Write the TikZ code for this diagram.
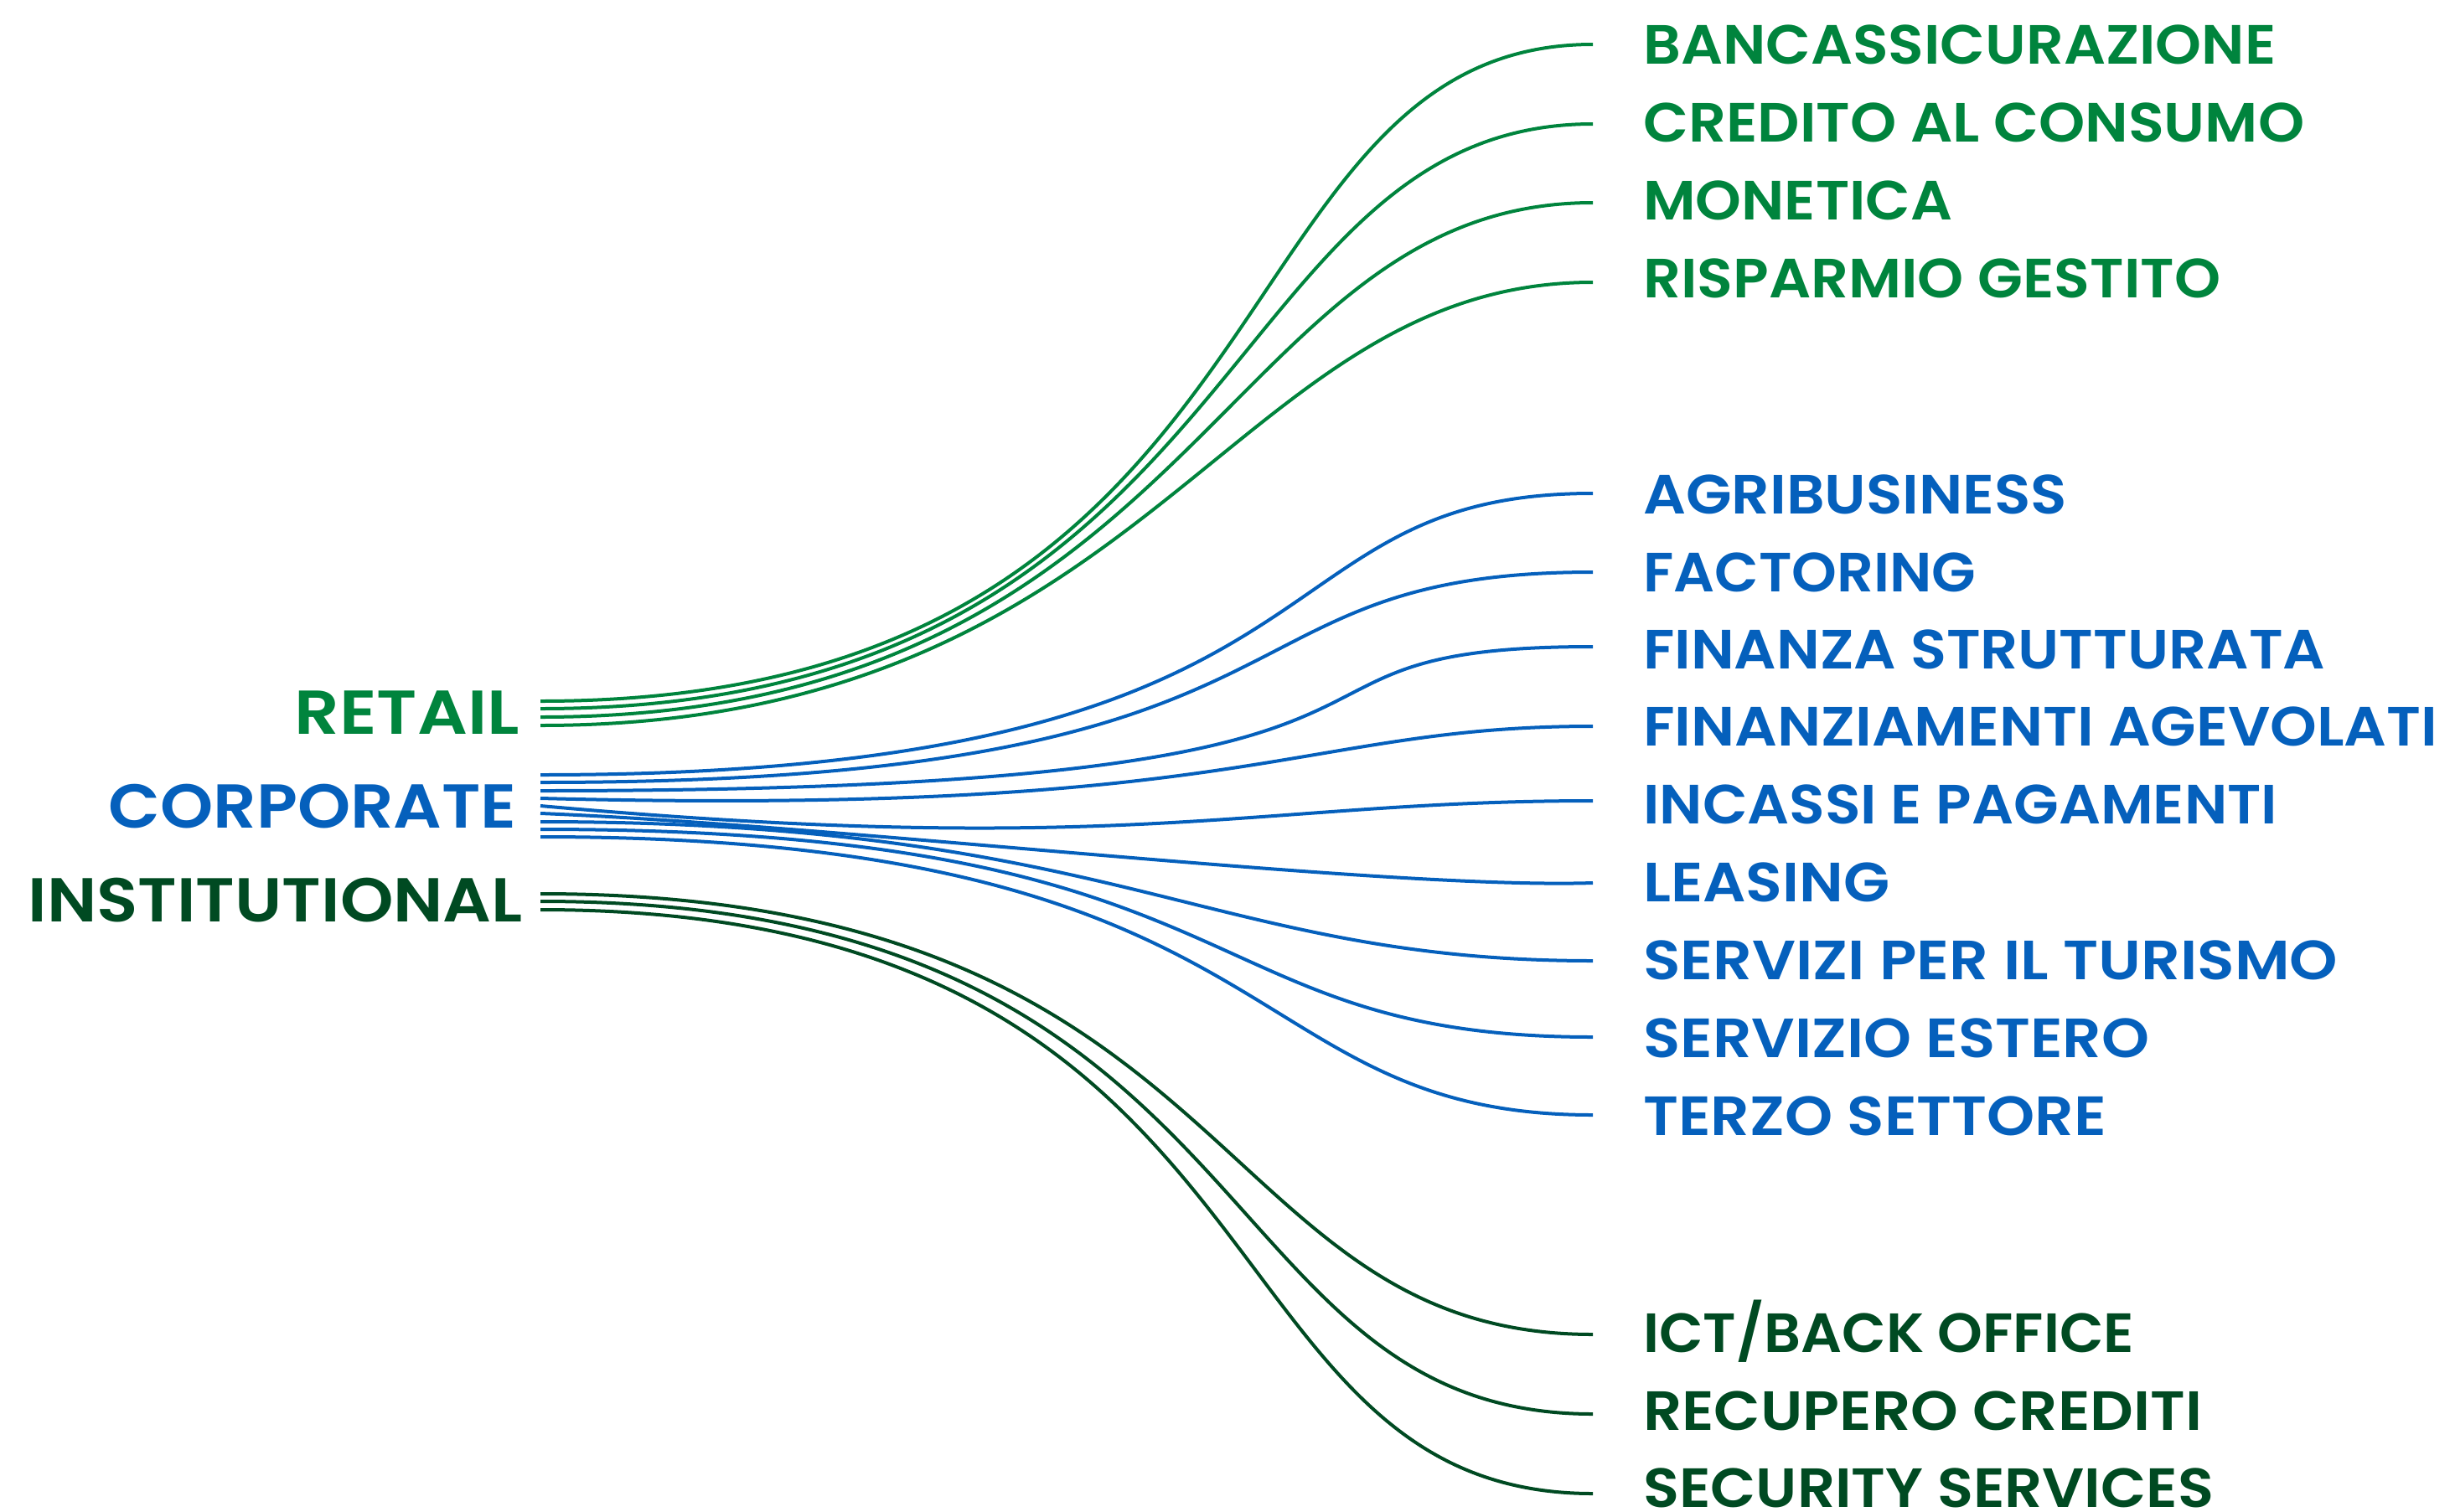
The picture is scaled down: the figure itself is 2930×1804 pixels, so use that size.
\documentclass[tikz,border=0pt]{standalone}
\usepackage{fontspec}
\usepackage{graphicx}
\IfFontExistsTF{Poppins SemiBold}
  {\newfontfamily\labfont{Poppins SemiBold}}
  {\newfontfamily\labfontbase{Poppins}\newcommand\labfont{\labfontbase\bfseries}}
\definecolor{cretail}{RGB}{0,132,61}
\definecolor{ccorp}{RGB}{5,96,188}
\definecolor{cinst}{RGB}{0,74,34}
% scale a text horizontally to a given width (in pt = px)
\newcommand\fitw[2]{\setbox0=\hbox{#2}\pgfmathsetmacro\fitsx{#1/\wd0}\scalebox{\fitsx}[1]{\copy0}}
\begin{document}
\begin{tikzpicture}[x=1pt,y=-1pt,
  rlab/.style={anchor=base west, inner sep=0pt, font=\fontsize{66}{70}\labfont},
  llab/.style={anchor=base east, inner sep=0pt, font=\fontsize{74}{80}\labfont},
  lnk/.style={line width=4pt},
  rline/.style={lnk, cretail},
  cline/.style={lnk, ccorp},
  iline/.style={lnk, cinst}]
\useasboundingbox (0,0) rectangle (2930,1804);
% left labels
\node[llab, text=cretail] (retail) at (620,876) {\fitw{268}{RETAIL}};
\node[llab, text=ccorp] (corporate) at (617,988) {\fitw{487}{CORPORATE}};
\node[llab, text=cinst] (institutional) at (624,1100) {\fitw{590}{INSTITUTIONAL}};
% right labels
\node[rlab, text=cretail] (t1) at (1961,76) {\fitw{755}{BANCASSICURAZIONE}};
\node[rlab, text=cretail] (t2) at (1961,169) {\fitw{789}{CREDITO AL CONSUMO}};
\node[rlab, text=cretail] (t3) at (1961,262) {\fitw{369}{MONETICA}};
\node[rlab, text=cretail] (t4) at (1961,355) {\fitw{689}{RISPARMIO GESTITO}};
\node[rlab, text=ccorp] (c1) at (1961,613) {\fitw{506}{AGRIBUSINESS}};
\node[rlab, text=ccorp] (c2) at (1961,706) {\fitw{397}{FACTORING}};
\node[rlab, text=ccorp] (c3) at (1961,798) {\fitw{814}{FINANZA STRUTTURATA}};
\node[rlab, text=ccorp] (c4) at (1961,890) {\fitw{948}{FINANZIAMENTI AGEVOLATI}};
\node[rlab, text=ccorp] (c5) at (1961,983) {\fitw{757}{INCASSI E PAGAMENTI}};
\node[rlab, text=ccorp] (c6) at (1961,1076) {\fitw{294}{LEASING}};
\node[rlab, text=ccorp] (c7) at (1961,1169) {\fitw{829}{SERVIZI PER IL TURISMO}};
\node[rlab, text=ccorp] (c8) at (1961,1262) {\fitw{604}{SERVIZIO ESTERO}};
\node[rlab, text=ccorp] (c9) at (1961,1355) {\fitw{553}{TERZO SETTORE}};
\node[rlab, text=cinst] (i1) at (1961,1614) {\fitw{586}{ICT/BACK OFFICE}};
\node[rlab, text=cinst] (i2) at (1961,1707) {\fitw{667}{RECUPERO CREDITI}};
\node[rlab, text=cinst] (i3) at (1961,1799) {\fitw{681}{SECURITY SERVICES}};
% connector end points
\coordinate (rs1) at (645,837); \coordinate (re1) at (1901,53);
\coordinate (rs2) at (645,846); \coordinate (re2) at (1901,148);
\coordinate (rs3) at (645,856); \coordinate (re3) at (1901,242);
\coordinate (rs4) at (645,866); \coordinate (re4) at (1901,337);
\coordinate (cs1) at (645,925); \coordinate (ce1) at (1901,589);
\coordinate (cs2) at (645,934); \coordinate (ce2) at (1901,683);
\coordinate (cs3) at (645,944); \coordinate (ce3) at (1901,772);
\coordinate (cs4) at (645,953); \coordinate (ce4) at (1901,867);
\coordinate (cs5) at (645,962); \coordinate (ce5) at (1901,956);
\coordinate (cs6) at (645,971); \coordinate (ce6) at (1901,1054);
\coordinate (cs7) at (645,981); \coordinate (ce7) at (1901,1147);
\coordinate (cs8) at (645,990); \coordinate (ce8) at (1901,1238);
\coordinate (cs9) at (645,999); \coordinate (ce9) at (1901,1331);
\coordinate (is1) at (645,1067); \coordinate (ie1) at (1901,1593);
\coordinate (is2) at (645,1076); \coordinate (ie2) at (1901,1688);
\coordinate (is3) at (645,1086); \coordinate (ie3) at (1901,1783);
% retail connectors
\draw[rline] (rs1) .. controls (1563,837) and (1437,53) .. (re1);
\draw[rline] (rs2) .. controls (1500,846) and (1445,148) .. (re2);
\draw[rline] (rs3) .. controls (1440,856) and (1455,242) .. (re3);
\draw[rline] (rs4) .. controls (1380,866) and (1465,337) .. (re4);
% corporate connectors
\draw[cline] (cs1) .. controls (1641,925) and (1478,589) .. (ce1);
\draw[cline] (cs2) .. controls (1619,934) and (1423,683) .. (ce2);
\draw[cline] (cs3) .. controls (1850,944) and (1433,772) .. (ce3);
\draw[cline] (cs4) .. controls (1500,975) and (1550,867) .. (ce4);
\draw[cline] (cs5) .. controls (1350,1025) and (1500,956) .. (ce5);
\draw[cline] (cs6) .. controls (1000,985) and (1650,1062) .. (ce6);
\draw[cline] (cs7) .. controls (1339,981) and (1446,1147) .. (ce7);
\draw[cline] (cs8) .. controls (1517,990) and (1410,1238) .. (ce8);
\draw[cline] (cs9) .. controls (1556,999) and (1467,1331) .. (ce9);
% institutional connectors
\draw[iline] (is1) .. controls (1490,1067) and (1437,1593) .. (ie1);
\draw[iline] (is2) .. controls (1525,1076) and (1428,1688) .. (ie2);
\draw[iline] (is3) .. controls (1561,1086) and (1419,1783) .. (ie3);
\end{tikzpicture}
\end{document}
